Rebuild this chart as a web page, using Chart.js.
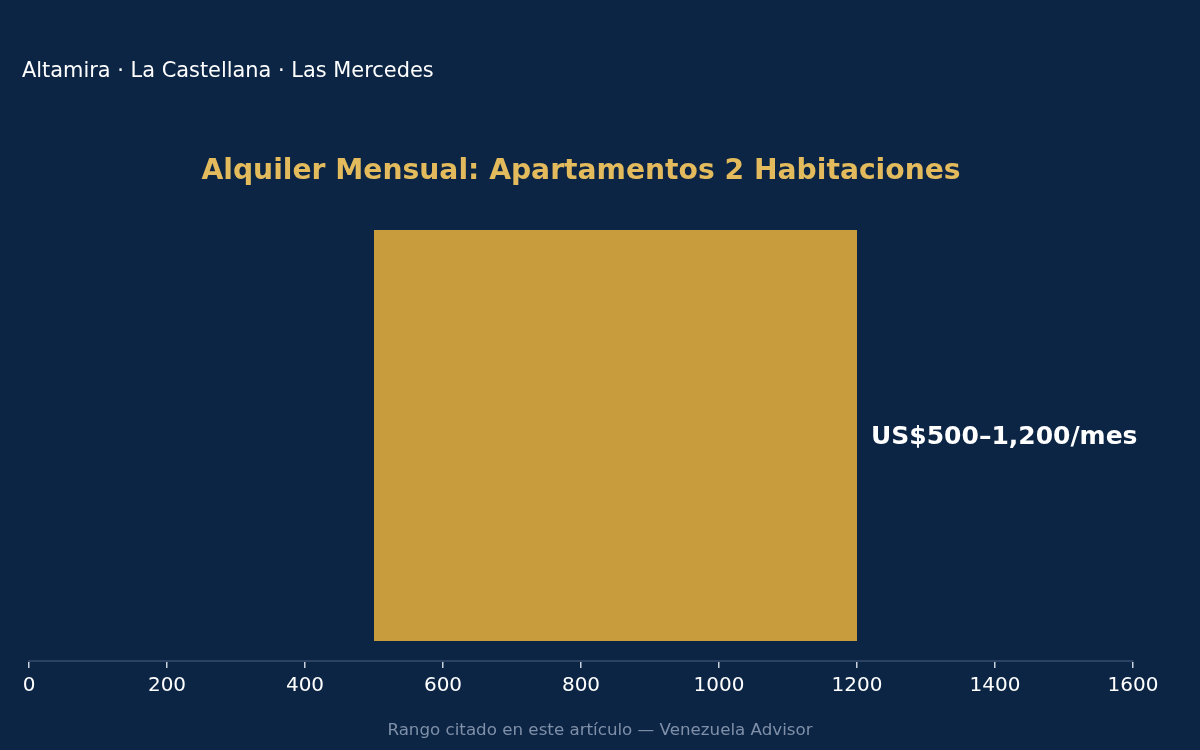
<!DOCTYPE html>
<html>
<head>
<meta charset="utf-8">
<script src="https://cdn.jsdelivr.net/npm/chart.js@4"></script>
<style>
  html, body { margin: 0; padding: 0; background: #0c2545; }
  #wrap { width: 1200px; height: 750px; }
</style>
</head>
<body>
<div id="wrap"><canvas id="chart" width="1200" height="750"></canvas></div>
<script>
const categories = ['Apartamentos 2 Habitaciones'];
const rentLow = [500];
const rentHigh = [1200];
const valueLabels = ['US$500–1,200/mes'];
const xTicks = [0, 200, 400, 600, 800, 1000, 1200, 1400, 1600];

const chartTitle = 'Alquiler Mensual: Apartamentos 2 Habitaciones';
const areaLine = 'Altamira · La Castellana · Las Mercedes';
const sourceLine = 'Rango citado en este artículo — Venezuela Advisor';

const FONT = '"DejaVu Sans", sans-serif';

/** Draws background, the headline texts, the footer and the value label. */
const decorations = {
    id: 'decorations',
    beforeDraw(chart) {
        const c = chart.ctx;
        c.save();
        c.fillStyle = '#0c2545';
        c.fillRect(0, 0, chart.width, chart.height);
        c.restore();
    },
    afterDraw(chart) {
        const c = chart.ctx;
        const area = chart.chartArea;
        c.save();
        c.textBaseline = 'middle';

        c.fillStyle = '#ffffff';
        c.font = '20.9px ' + FONT;
        c.textAlign = 'left';
        c.fillText(areaLine, 22, 71.5);

        c.fillStyle = '#e3bb5d';
        c.font = 'bold 28.2px ' + FONT;
        c.textAlign = 'center';
        c.fillText(chartTitle, (area.left + area.right) / 2, 171.5);

        c.fillStyle = '#7f90a8';
        c.font = '16.7px ' + FONT;
        c.fillText(sourceLine, 600, 731);

        const meta = chart.getDatasetMeta(0);
        c.fillStyle = '#ffffff';
        c.font = 'bold 25px ' + FONT;
        c.textAlign = 'left';
        meta.data.forEach((bar, i) => {
            c.fillText(valueLabels[i], bar.x + 14, bar.y + 1.5);
        });
        c.restore();
    }
};

const data = {
    labels: categories,
    datasets: [{
        label: 'Alquiler mensual (US$)',
        data: rentLow.map((lo, i) => [lo, rentHigh[i]]),
        backgroundColor: '#c89b3c',
        borderWidth: 0,
        categoryPercentage: 1,
        barPercentage: 0.911,
    }]
};

const config = {
    type: 'bar',
    data: data,
    plugins: [decorations],
    options: {
        indexAxis: 'y',
        responsive: false,
        animation: false,
        layout: {
            padding: { top: 210, left: 29, right: 67, bottom: 46 }
        },
        plugins: {
            legend: { display: false },
            title: { display: false },
            tooltip: { enabled: false },
        },
        scales: {
            x: {
                min: 0,
                max: 1600,
                afterBuildTicks: axis => {
                    axis.ticks = xTicks.map(v => ({ value: v }));
                },
                ticks: {
                    color: '#ffffff',
                    font: { family: FONT, size: 20 },
                    padding: 6,
                    maxRotation: 0,
                    callback: v => String(v),
                },
                grid: {
                    drawOnChartArea: false,
                    drawTicks: true,
                    tickLength: 7,
                    color: '#c9d1dc',
                    lineWidth: 1.5,
                },
                border: { color: '#2c4264', width: 2 },
            },
            y: {
                display: false,
            }
        }
    }
};

new Chart(document.getElementById('chart'), config);
</script>
</body>
</html>
